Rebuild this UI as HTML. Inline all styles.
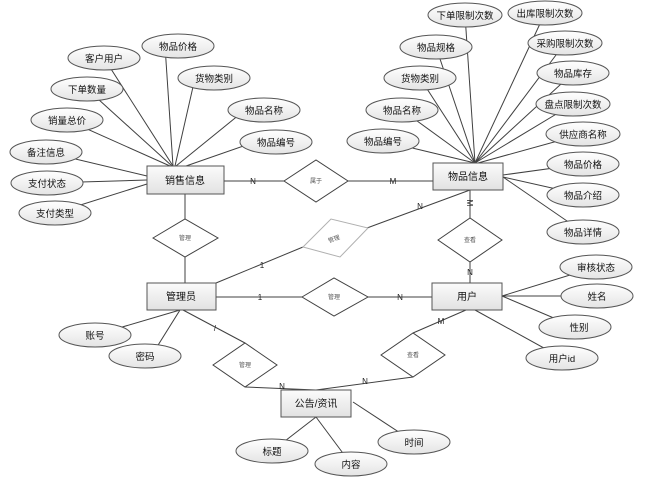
<!DOCTYPE html>
<html><head><meta charset="utf-8"><style>
html,body{margin:0;padding:0;background:#fff;width:650px;height:482px;overflow:hidden}
text{font-family:"Liberation Sans","Noto Sans CJK SC",sans-serif;}
</style></head><body>
<svg width="650" height="482" viewBox="0 0 650 482" xmlns="http://www.w3.org/2000/svg">
<defs>
<linearGradient id="g" x1="0" y1="0" x2="0" y2="1"><stop offset="0" stop-color="#ffffff"/><stop offset="1" stop-color="#e4e4e4"/></linearGradient>
<linearGradient id="r" x1="0" y1="0" x2="0" y2="1"><stop offset="0" stop-color="#fbfbfb"/><stop offset="1" stop-color="#e2e2e2"/></linearGradient>
</defs>
<g stroke="#404040" stroke-width="1" fill="none">
<line x1="104" y1="58" x2="173" y2="166"/>
<line x1="165" y1="46" x2="173" y2="166"/>
<line x1="195" y1="78" x2="175" y2="166"/>
<line x1="87" y1="89" x2="172" y2="166"/>
<line x1="245" y1="110" x2="176" y2="166"/>
<line x1="67" y1="120" x2="170" y2="166"/>
<line x1="255" y1="142" x2="186" y2="166"/>
<line x1="46" y1="152" x2="147" y2="176"/>
<line x1="47" y1="183" x2="147" y2="180"/>
<line x1="55" y1="213" x2="147" y2="184"/>
<line x1="465" y1="15" x2="475" y2="163"/>
<line x1="545" y1="13" x2="475" y2="163"/>
<line x1="436" y1="47" x2="475" y2="163"/>
<line x1="565" y1="43" x2="475" y2="163"/>
<line x1="420" y1="78" x2="475" y2="163"/>
<line x1="573" y1="73" x2="475" y2="163"/>
<line x1="402" y1="110" x2="475" y2="163"/>
<line x1="573" y1="104" x2="475" y2="163"/>
<line x1="383" y1="141" x2="475" y2="163"/>
<line x1="583" y1="134" x2="478" y2="163"/>
<line x1="583" y1="164" x2="503" y2="175"/>
<line x1="583" y1="195" x2="503" y2="177"/>
<line x1="583" y1="232" x2="503" y2="177"/>
<line x1="224" y1="181" x2="284" y2="181"/>
<line x1="348" y1="181" x2="433" y2="181"/>
<line x1="185" y1="194" x2="185" y2="219"/>
<line x1="185" y1="257" x2="185" y2="283"/>
<line x1="216" y1="283" x2="303" y2="247"/>
<line x1="367" y1="228" x2="470" y2="190"/>
<line x1="216" y1="297" x2="302" y2="297"/>
<line x1="368" y1="297" x2="432" y2="297"/>
<line x1="470" y1="190" x2="470" y2="218"/>
<line x1="470" y1="262" x2="470" y2="283"/>
<line x1="502" y1="296" x2="596" y2="267"/>
<line x1="502" y1="296" x2="597" y2="296"/>
<line x1="502" y1="296" x2="575" y2="327"/>
<line x1="475" y1="310" x2="562" y2="358"/>
<line x1="466" y1="310" x2="413" y2="333"/>
<line x1="413" y1="377" x2="316" y2="390"/>
<line x1="183" y1="310" x2="245" y2="343"/>
<line x1="245" y1="387" x2="316" y2="390"/>
<line x1="180" y1="310" x2="95" y2="335"/>
<line x1="180" y1="310" x2="155" y2="350"/>
<line x1="316" y1="417" x2="272" y2="451"/>
<line x1="316" y1="417" x2="351" y2="464"/>
<line x1="353" y1="402" x2="414" y2="442"/>
</g>
<g fill="#fff" stroke="#404040">
<polygon points="284,181 316,160 348,181 316,202"/>
<polygon points="153,238 185,219 218,238 185,257"/>
<polygon points="302,297 334,278 368,297 334,316"/>
<polygon points="438,240 470,218 502,240 470,262"/>
<polygon points="213,365 245,343 277,365 245,387"/>
<polygon points="381,355 413,333 445,355 413,377"/>
</g>
<polygon points="303,247 331,219 368,228 340,257" fill="#fff" stroke="#b0b0b0"/>
<g font-size="6" fill="#555" text-anchor="middle">
<text x="316" y="183">属于</text>
<text x="185" y="240">管理</text>
<text x="334" y="241" transform="rotate(-20 334 239)">管理</text>
<text x="334" y="299">管理</text>
<text x="470" y="242">查看</text>
<text x="245" y="367">管理</text>
<text x="413" y="357">查看</text>
</g>
<g fill="url(#r)" stroke="#555">
<rect x="147" y="166" width="77" height="28"/>
<rect x="433" y="163" width="70" height="27"/>
<rect x="147" y="283" width="69" height="27"/>
<rect x="432" y="283" width="70" height="27"/>
<rect x="281" y="390" width="70" height="27"/>
</g>
<g font-size="10" fill="#111" text-anchor="middle">
<text x="185" y="184">销售信息</text>
<text x="468" y="180">物品信息</text>
<text x="181" y="300">管理员</text>
<text x="467" y="300">用户</text>
<text x="316" y="407">公告/资讯</text>
</g>
<g font-size="8" fill="#222" text-anchor="middle">
<text x="253" y="184">N</text>
<text x="393" y="184">M</text>
<text x="420" y="209">N</text>
<text x="262" y="268">1</text>
<text x="260" y="300">1</text>
<text x="400" y="300">N</text>
<text x="470" y="206" transform="rotate(90 470 203)">M</text>
<text x="470" y="275">N</text>
<text x="441" y="324">M</text>
<text x="365" y="384">N</text>
<text x="215" y="331">/</text>
<text x="282" y="389">N</text>
</g>
<g fill="url(#g)" stroke="#555">
<ellipse cx="104" cy="58" rx="36" ry="12"/>
<ellipse cx="178" cy="46" rx="36" ry="12"/>
<ellipse cx="214" cy="78" rx="36" ry="12"/>
<ellipse cx="87" cy="89" rx="36" ry="12"/>
<ellipse cx="264" cy="110" rx="36" ry="12"/>
<ellipse cx="67" cy="120" rx="36" ry="12"/>
<ellipse cx="276" cy="142" rx="36" ry="12"/>
<ellipse cx="46" cy="152" rx="36" ry="12"/>
<ellipse cx="47" cy="183" rx="36" ry="12"/>
<ellipse cx="55" cy="213" rx="36" ry="12"/>
<ellipse cx="465" cy="15" rx="37" ry="12"/>
<ellipse cx="545" cy="13" rx="37" ry="12"/>
<ellipse cx="436" cy="47" rx="36" ry="12"/>
<ellipse cx="565" cy="43" rx="37" ry="12"/>
<ellipse cx="420" cy="78" rx="36" ry="12"/>
<ellipse cx="573" cy="73" rx="36" ry="12"/>
<ellipse cx="402" cy="110" rx="36" ry="12"/>
<ellipse cx="573" cy="104" rx="37" ry="12"/>
<ellipse cx="383" cy="141" rx="36" ry="12"/>
<ellipse cx="583" cy="134" rx="37" ry="12"/>
<ellipse cx="583" cy="164" rx="36" ry="12"/>
<ellipse cx="583" cy="195" rx="36" ry="12"/>
<ellipse cx="583" cy="232" rx="36" ry="12"/>
<ellipse cx="596" cy="267" rx="36" ry="12"/>
<ellipse cx="597" cy="296" rx="36" ry="12"/>
<ellipse cx="575" cy="327" rx="36" ry="12"/>
<ellipse cx="562" cy="358" rx="36" ry="12"/>
<ellipse cx="95" cy="335" rx="36" ry="12"/>
<ellipse cx="145" cy="356" rx="36" ry="12"/>
<ellipse cx="272" cy="451" rx="36" ry="12"/>
<ellipse cx="351" cy="464" rx="36" ry="12"/>
<ellipse cx="414" cy="442" rx="36" ry="12"/>
</g>
<g font-size="9.5" fill="#111" text-anchor="middle">
<text x="104" y="62">客户用户</text>
<text x="178" y="50">物品价格</text>
<text x="214" y="82">货物类别</text>
<text x="87" y="93">下单数量</text>
<text x="264" y="114">物品名称</text>
<text x="67" y="124">销量总价</text>
<text x="276" y="146">物品编号</text>
<text x="46" y="156">备注信息</text>
<text x="47" y="187">支付状态</text>
<text x="55" y="217">支付类型</text>
<text x="465" y="19">下单限制次数</text>
<text x="545" y="17">出库限制次数</text>
<text x="436" y="51">物品规格</text>
<text x="565" y="47">采购限制次数</text>
<text x="420" y="82">货物类别</text>
<text x="573" y="77">物品库存</text>
<text x="402" y="114">物品名称</text>
<text x="573" y="108">盘点限制次数</text>
<text x="383" y="145">物品编号</text>
<text x="583" y="138">供应商名称</text>
<text x="583" y="168">物品价格</text>
<text x="583" y="199">物品介绍</text>
<text x="583" y="236">物品详情</text>
<text x="596" y="271">审核状态</text>
<text x="597" y="300">姓名</text>
<text x="579" y="331">性别</text>
<text x="562" y="362">用户id</text>
<text x="95" y="339">账号</text>
<text x="145" y="360">密码</text>
<text x="272" y="455">标题</text>
<text x="351" y="468">内容</text>
<text x="414" y="446">时间</text>
</g>
</svg>
</body></html>
